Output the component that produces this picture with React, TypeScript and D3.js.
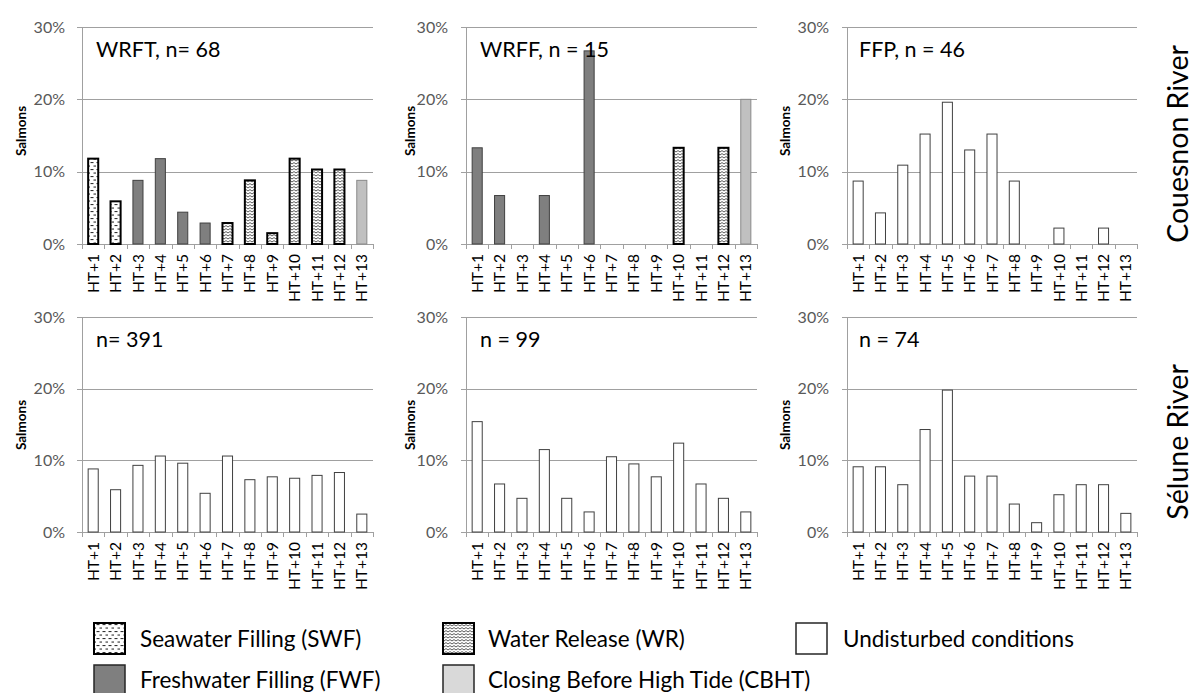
import React from 'react';
import * as d3 from 'd3';

const hours = ['HT+1', 'HT+2', 'HT+3', 'HT+4', 'HT+5', 'HT+6', 'HT+7', 'HT+8', 'HT+9', 'HT+10', 'HT+11', 'HT+12', 'HT+13'];
const yTickValues = [0, 10, 20, 30];

const wrftValues = [11.8, 5.9, 8.8, 11.8, 4.4, 2.9, 2.9, 8.8, 1.5, 11.8, 10.3, 10.3, 8.8];
const wrftTypes = ['SWF', 'SWF', 'FWF', 'FWF', 'FWF', 'FWF', 'WR', 'WR', 'WR', 'WR', 'WR', 'WR', 'CBHT'];
const wrffValues = [13.3, 6.7, 0, 6.7, 0, 26.7, 0, 0, 0, 13.3, 0, 13.3, 20.0];
const wrffTypes = ['FWF', 'FWF', 'FWF', 'FWF', 'FWF', 'FWF', 'WR', 'WR', 'WR', 'WR', 'WR', 'WR', 'CBHT'];
const ffpValues = [8.7, 4.3, 10.9, 15.2, 19.6, 13.0, 15.2, 8.7, 0, 2.2, 0, 2.2, 0];
const seluneAllValues = [8.8, 5.9, 9.3, 10.6, 9.6, 5.4, 10.6, 7.3, 7.7, 7.5, 7.9, 8.3, 2.5];
const seluneMidValues = [15.4, 6.7, 4.7, 11.5, 4.7, 2.8, 10.5, 9.5, 7.7, 12.4, 6.7, 4.7, 2.8];
const seluneRightValues = [9.1, 9.1, 6.6, 14.3, 19.8, 7.8, 7.8, 3.9, 1.3, 5.2, 6.6, 6.6, 2.6];
const undisturbedTypes = hours.map(() => 'U');

const panelTitles = ['WRFT, n= 68', 'WRFF, n = 15', 'FFP, n = 46', 'n= 391', 'n = 99', 'n = 74'];
const riverLabels = ['Couesnon River', 'Sélune River'];
const yAxisTitle = 'Salmons';

const legendKeys = ['SWF', 'WR', 'U', 'FWF', 'CBHT'];
const legendLabels = ['Seawater Filling (SWF)', 'Water Release (WR)', 'Undisturbed conditions', 'Freshwater Filling (FWF)', 'Closing Before High Tide (CBHT)'];

const FONT = 'Lato, "Open Sans", sans-serif';

const barStyle: Record<string, { fill: string; stroke: string; sw: number }> = {
  SWF: { fill: 'url(#pat-swf)', stroke: '#000', sw: 2 },
  WR: { fill: 'url(#pat-wr)', stroke: '#000', sw: 2 },
  FWF: { fill: '#7f7f7f', stroke: '#404040', sw: 1 },
  CBHT: { fill: '#c0c0c0', stroke: '#8a8a8a', sw: 1 },
  U: { fill: '#ffffff', stroke: '#404040', sw: 1 },
};
const legendStyle: Record<string, { fill: string; stroke: string; sw: number }> = {
  SWF: { fill: 'url(#pat-swf)', stroke: '#000', sw: 2 },
  WR: { fill: 'url(#pat-wr)', stroke: '#000', sw: 2 },
  FWF: { fill: '#7f7f7f', stroke: '#262626', sw: 1.5 },
  CBHT: { fill: '#d9d9d9', stroke: '#262626', sw: 1.5 },
  U: { fill: '#ffffff', stroke: '#262626', sw: 1.5 },
};

const cols = [
  { x0: 82, x1: 373, titleX: 96, tickX: 65, labelX: 21 },
  { x0: 466, x1: 757, titleX: 480, tickX: 448, labelX: 410 },
  { x0: 847, x1: 1137, titleX: 859, tickX: 829, labelX: 785 },
];
const rows = [
  { yTop: 27, y0: 244, titleY: 57, labelY: 131 },
  { yTop: 317, y0: 532, titleY: 347, labelY: 425 },
];

const panels = [
  { col: 0, row: 0, values: wrftValues, types: wrftTypes, title: panelTitles[0] },
  { col: 1, row: 0, values: wrffValues, types: wrffTypes, title: panelTitles[1] },
  { col: 2, row: 0, values: ffpValues, types: undisturbedTypes, title: panelTitles[2] },
  { col: 0, row: 1, values: seluneAllValues, types: undisturbedTypes, title: panelTitles[3] },
  { col: 1, row: 1, values: seluneMidValues, types: undisturbedTypes, title: panelTitles[4] },
  { col: 2, row: 1, values: seluneRightValues, types: undisturbedTypes, title: panelTitles[5] },
];

function Panel({ col, row, values, types, title }: any) {
  const c = cols[col];
  const r = rows[row];
  const x = d3.scaleBand<string>().domain(hours).range([c.x0, c.x1]).paddingInner(0.55).paddingOuter(0.275);
  const y = d3.scaleLinear().domain([0, 30]).range([r.y0, r.yTop]);
  const step = x.step();
  const bounds = d3.range(hours.length + 1).map((i) => c.x0 + i * step);
  const grid = '#a0a0a0';
  return (
    <g>
      {yTickValues.filter((t) => t > 0).map((t) => (
        <line key={'g' + t} x1={c.x0} x2={c.x1} y1={Math.round(y(t)) + 0.5} y2={Math.round(y(t)) + 0.5} stroke={grid} strokeWidth={1} />
      ))}
      {yTickValues.map((t) => (
        <g key={'t' + t}>
          <line x1={c.x0 - 5} x2={c.x0} y1={Math.round(y(t)) + 0.5} y2={Math.round(y(t)) + 0.5} stroke={grid} />
          <text x={c.tickX} y={y(t)} dy="0.35em" textAnchor="end" fontSize={16} fill="#595959" fontFamily={FONT}>{t + '%'}</text>
        </g>
      ))}
      <line x1={c.x0 + 0.5} x2={c.x0 + 0.5} y1={r.yTop} y2={r.y0 + 5} stroke={grid} />
      <line x1={c.x0} x2={c.x1} y1={Math.round(r.y0) + 0.5} y2={Math.round(r.y0) + 0.5} stroke={grid} />
      {bounds.map((b, i) => (
        <line key={'b' + i} x1={Math.round(b) + 0.5} x2={Math.round(b) + 0.5} y1={r.y0} y2={r.y0 + 5} stroke={grid} />
      ))}
      {values.map((v: number, i: number) => {
        if (v <= 0) return null;
        const s = barStyle[types[i]];
        const bx = x(hours[i])!;
        return (
          <rect key={'r' + i} x={bx} y={y(v)} width={x.bandwidth()} height={r.y0 - y(v)} fill={s.fill} stroke={s.stroke} strokeWidth={s.sw} />
        );
      })}
      {hours.map((h) => (
        <text key={'x' + h} transform={`translate(${x(h)! + x.bandwidth() / 2},${r.y0 + 10}) rotate(-90)`} dy="0.36em" textAnchor="end" fontSize={15.5} fill="#000" fontFamily={FONT}>{h}</text>
      ))}
      <text transform={`translate(${c.labelX},${r.labelY}) rotate(-90)`} dy="0.35em" textAnchor="middle" fontSize={13.5} fontWeight="bold" fill="#000" fontFamily={FONT}>{yAxisTitle}</text>
      <text x={c.titleX} y={r.titleY} fontSize={21.5} fill="#000" fontFamily={FONT}>{title}</text>
    </g>
  );
}

export default function App() {
  const legendCols = [{ sx: 94, tx: 140 }, { sx: 443, tx: 488 }, { sx: 796, tx: 843 }];
  const legendRows = [{ sy: 623, ty: 647 }, { sy: 665, ty: 688 }];
  const riverY = [144, 442];
  return (
    <svg width={1196} height={693} style={{ position: 'absolute', left: 0, top: 0, background: '#fff' }}>
      <defs>
        <pattern id="pat-swf" width={6} height={7} patternUnits="userSpaceOnUse">
          <rect width={6} height={7} fill="#fff" />
          <rect x={0.5} y={1} width={3} height={1.1} fill="#333" />
          <rect x={3.5} y={4.5} width={3} height={1.1} fill="#333" />
        </pattern>
        <pattern id="pat-wr" width={4} height={3} patternUnits="userSpaceOnUse">
          <rect width={4} height={3} fill="#fff" />
          <path d="M0,2 L2,0.6 L4,2" stroke="#444" strokeWidth={0.9} fill="none" />
        </pattern>
      </defs>
      <rect width={1196} height={693} fill="#fff" />
      {panels.map((p, i) => <Panel key={i} {...p} />)}
      {riverLabels.map((l, i) => (
        <text key={l} transform={`translate(1188,${riverY[i]}) rotate(-90)`} textAnchor="middle" fontSize={28.5} fill="#000" fontFamily={FONT}>{l}</text>
      ))}
      {legendKeys.map((k, i) => {
        const lc = legendCols[i % 3];
        const lr = legendRows[Math.floor(i / 3)];
        const s = legendStyle[k];
        return (
          <g key={k}>
            <rect x={lc.sx} y={lr.sy} width={31} height={31} fill={s.fill} stroke={s.stroke} strokeWidth={s.sw} />
            <text x={lc.tx} y={lr.ty} fontSize={22.5} fill="#000" fontFamily={FONT}>{legendLabels[i]}</text>
          </g>
        );
      })}
    </svg>
  );
}
